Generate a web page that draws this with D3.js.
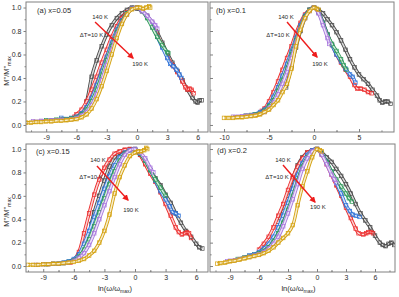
<!DOCTYPE html>
<html>
<head>
<meta charset="utf-8">
<script src="https://cdn.jsdelivr.net/npm/d3@7"></script>
<style>
body { margin: 0; background: #fff; }
svg text { font-family: "Liberation Sans", Arial, sans-serif; fill: #2a2a2a; }
</style>
</head>
<body>
<div id="chart"></div>
<script>
// temperatures and colours (140 K ... 190 K, step 10 K)
const temps = ['140 K', '150 K', '160 K', '170 K', '180 K', '190 K'];
const colors = ['#4a4a4a', '#ec2f2f', '#3174d8', '#2f9a5a', '#a877de', '#d4a10e'];

// (a) x=0.05
const a140 = [[-5.4,.12],[-5,.2],[-4.5,.41],[-4,.55],[-3.5,.67],[-3,.77],[-2.5,.85],[-2,.91],[-1.5,.95],[-1,.98],[-.5,1],[0,.99],[.5,.97],[1,.93],[1.5,.87],[2,.79],[2.5,.7],[3,.61],[3.5,.53],[4,.46],[4.5,.38],[5,.3],[5.5,.23],[5.8,.2],[6,.19],[6.2,.21],[6.4,.21]];
const a150 = [[-6.2,.07],[-6,.09],[-5.5,.13],[-5,.2],[-4.5,.3],[-4,.41],[-3.5,.53],[-3,.64],[-2.5,.75],[-2,.84],[-1.5,.91],[-1,.96],[-.5,.99],[0,1],[.5,.97],[1,.92],[1.5,.85],[2,.76],[2.5,.67],[3,.58],[3.5,.51],[4,.45],[4.5,.37],[4.8,.32],[5,.3],[5.2,.31],[5.4,.3],[5.6,.27]];
const a160 = [[-7.5,.06],[-7.3,.05],[-7,.05],[-6.5,.06],[-6,.07],[-5.5,.1],[-5,.15],[-4.5,.23],[-4,.34],[-3.5,.46],[-3,.58],[-2.5,.7],[-2,.81],[-1.5,.89],[-1,.95],[-.5,.99],[0,1],[.5,.97],[1,.92],[1.5,.84],[2,.75],[2.5,.66],[3,.57],[3.3,.52],[3.6,.5],[3.9,.47],[4.2,.43],[4.4,.4]];
const a170 = [[-9,.04],[-8.5,.04],[-8,.045],[-7.5,.05],[-7,.05],[-6.5,.055],[-6,.065],[-5.5,.09],[-5,.13],[-4.5,.2],[-4,.3],[-3.5,.42],[-3,.55],[-2.5,.67],[-2,.79],[-1.5,.88],[-1,.95],[-.5,.99],[0,1],[.5,.97],[1,.91],[1.5,.83],[2,.75],[2.5,.68],[3,.62],[3.1,.61]];
const a180 = [[-10.3,.03],[-9.5,.035],[-8.5,.04],[-7.5,.045],[-6.5,.05],[-6,.06],[-5.5,.08],[-5,.11],[-4.5,.17],[-4,.26],[-3.5,.38],[-3,.51],[-2.5,.64],[-2,.77],[-1.5,.87],[-1,.94],[-.5,.99],[0,1],[.5,.97],[1,.93],[1.5,.88],[1.8,.85],[2,.82]];
const a190 = [[-11,.02],[-10.5,.02],[-10,.025],[-9.5,.025],[-9,.03],[-8.5,.03],[-8,.035],[-7.5,.035],[-7,.04],[-6.5,.045],[-6,.05],[-5.5,.065],[-5,.09],[-4.5,.14],[-4,.22],[-3.5,.33],[-3,.46],[-2.5,.6],[-2,.74],[-1.5,.86],[-1,.94],[-.5,.985],[0,1],[.3,1],[.6,.99],[.9,1],[1.2,1.01],[1.3,1]];

// (b) x=0.1
const b140 = [[-3.1,.32],[-2.5,.5],[-2,.66],[-1.5,.8],[-1,.91],[-.5,.98],[0,1],[.5,.98],[1,.95],[1.5,.9],[2,.85],[2.5,.79],[3,.72],[3.5,.64],[4,.56],[4.5,.49],[5,.43],[5.5,.39],[6,.35],[6.5,.3],[7,.25],[7.3,.21],[7.6,.19],[7.9,.2],[8.2,.2],[8.5,.18]];
const b150 = [[-5.8,.12],[-5.5,.14],[-5,.2],[-4.5,.28],[-4,.37],[-3.5,.47],[-3,.57],[-2.5,.67],[-2,.78],[-1.5,.87],[-1,.94],[-.5,.98],[0,1],[.5,.96],[1,.87],[1.5,.77],[2,.68],[2.5,.6],[3,.53],[3.5,.47],[4,.41],[4.5,.34],[4.8,.31],[5.2,.31],[5.6,.3],[6,.28],[6.4,.27]];
const b160 = [[-6.6,.09],[-6,.11],[-5.5,.13],[-5,.17],[-4.5,.24],[-4,.32],[-3.5,.42],[-3,.52],[-2.5,.63],[-2,.74],[-1.5,.85],[-1,.93],[-.5,.98],[0,1],[.5,.96],[1,.87],[1.5,.77],[2,.68],[2.5,.6],[3,.54],[3.5,.48],[4,.43],[4.3,.41],[4.6,.36]];
const b170 = [[-7.6,.08],[-7,.085],[-6.5,.09],[-6,.1],[-5.5,.12],[-5,.16],[-4.5,.21],[-4,.29],[-3.5,.38],[-3,.48],[-2.5,.6],[-2,.72],[-1.5,.83],[-1,.92],[-.5,.98],[0,1],[.5,.96],[1,.87],[1.5,.77],[2,.69],[2.5,.63],[3,.56],[3.3,.51],[3.6,.47]];
const b180 = [[-9,.07],[-8.5,.07],[-8,.075],[-7.5,.08],[-7,.08],[-6.5,.085],[-6,.095],[-5.5,.11],[-5,.14],[-4.5,.19],[-4,.26],[-3.5,.35],[-3,.45],[-2.5,.57],[-2,.7],[-1.5,.82],[-1,.91],[-.5,.97],[0,1],[.5,.95],[1,.85],[1.5,.74],[1.7,.69]];
const b190 = [[-10,.06],[-9.5,.06],[-9,.06],[-8.5,.065],[-8,.065],[-7.5,.07],[-7,.075],[-6.5,.08],[-6,.09],[-5.5,.11],[-5,.13],[-4.5,.17],[-4,.21],[-3.5,.28],[-3,.35],[-2.5,.48],[-2,.67],[-1.5,.81],[-1,.91],[-.5,.97],[0,1],[.3,.99],[.5,.98]];

// (c) x=0.15
const c140 = [[-4.3,.36],[-4,.46],[-3.5,.6],[-3,.73],[-2.5,.85],[-2,.93],[-1.5,.97],[-1,.99],[-.5,1],[0,.99],[.5,.95],[1,.88],[1.5,.82],[2,.75],[2.5,.69],[3,.61],[3.5,.54],[4,.45],[4.5,.37],[5,.3],[5.5,.25],[6,.19],[6.3,.16],[6.6,.15]];
const c150 = [[-6.3,.03],[-6,.05],[-5.5,.12],[-5,.28],[-4.5,.45],[-4,.61],[-3.5,.74],[-3,.84],[-2.5,.91],[-2,.96],[-1.5,.98],[-1,.995],[-.5,1],[0,1],[.5,.95],[1,.87],[1.5,.79],[2,.72],[2.5,.63],[3,.53],[3.5,.43],[4,.33],[4.3,.29],[4.6,.27],[4.9,.28],[5.1,.29],[5.3,.28],[5.5,.24]];
const c160 = [[-7.5,.02],[-7,.03],[-6.5,.04],[-6,.06],[-5.5,.1],[-5,.19],[-4.5,.3],[-4,.42],[-3.5,.54],[-3,.66],[-2.5,.77],[-2,.86],[-1.5,.93],[-1,.97],[-.5,.99],[0,1],[.5,.96],[1,.9],[1.5,.82],[2,.73],[2.5,.64],[3,.57],[3.4,.51],[3.7,.46],[4,.45],[4.3,.43]];
const c170 = [[-8.7,.015],[-8,.02],[-7.5,.02],[-7,.025],[-6.5,.035],[-6,.05],[-5.5,.08],[-5,.14],[-4.5,.23],[-4,.34],[-3.5,.46],[-3,.58],[-2.5,.7],[-2,.81],[-1.5,.9],[-1,.96],[-.5,.99],[0,1],[.5,.96],[1,.9],[1.5,.82],[2,.74],[2.5,.67],[3,.6]];
const c180 = [[-9.7,.01],[-9,.015],[-8.5,.015],[-8,.02],[-7.5,.02],[-7,.025],[-6.5,.03],[-6,.045],[-5.5,.07],[-5,.11],[-4.5,.18],[-4,.28],[-3.5,.4],[-3,.52],[-2.5,.64],[-2,.76],[-1.5,.87],[-1,.95],[-.5,.99],[0,1],[.5,.97],[1,.92],[1.5,.84],[1.8,.8]];
const c190 = [[-10.5,.01],[-10,.01],[-9.5,.01],[-9,.015],[-8.5,.015],[-8,.02],[-7.5,.02],[-7,.025],[-6.5,.03],[-6,.035],[-5.5,.045],[-5,.06],[-4.5,.09],[-4,.13],[-3.5,.2],[-3,.3],[-2.5,.44],[-2,.62],[-1.5,.76],[-1,.86],[-.5,.94],[0,.97],[.3,.98],[.6,.98],[.9,.99],[1.1,1.01],[1.2,1]];

// (d) x=0.2
const d140 = [[-4,.38],[-3.5,.47],[-3,.6],[-2.5,.75],[-2,.86],[-1.5,.93],[-1,.97],[-.5,.99],[0,1],[.5,.97],[1,.93],[1.5,.89],[2,.83],[2.5,.77],[3,.7],[3.5,.62],[4,.53],[4.5,.45],[5,.39],[5.5,.33],[6,.26],[6.5,.2],[6.8,.18],[7.1,.17],[7.4,.19],[7.7,.2],[8,.18]];
const d150 = [[-6,.14],[-5.5,.19],[-5,.25],[-4.5,.33],[-4,.43],[-3.5,.53],[-3,.65],[-2.5,.76],[-2,.85],[-1.5,.92],[-1,.97],[-.5,.99],[0,1],[.5,.95],[1,.87],[1.5,.78],[2,.69],[2.5,.6],[3,.5],[3.5,.41],[4,.32],[4.3,.28],[4.8,.27],[5.1,.28],[5.3,.29],[5.6,.29],[5.8,.28]];
const d160 = [[-7,.09],[-6.5,.1],[-6,.12],[-5.5,.15],[-5,.19],[-4.5,.25],[-4,.33],[-3.5,.43],[-3,.54],[-2.5,.66],[-2,.78],[-1.5,.88],[-1,.95],[-.5,.99],[0,1],[.5,.96],[1,.89],[1.5,.8],[2,.71],[2.5,.62],[3,.52],[3.4,.47],[3.7,.44],[4,.43],[4.4,.42]];
const d170 = [[-8.2,.06],[-7.5,.075],[-7,.085],[-6.5,.095],[-6,.11],[-5.5,.13],[-5,.16],[-4.5,.21],[-4,.28],[-3.5,.37],[-3,.48],[-2.5,.6],[-2,.73],[-1.5,.85],[-1,.93],[-.5,.98],[0,1],[.5,.96],[1,.89],[1.5,.81],[2,.74],[2.5,.68],[3,.62],[3.3,.58],[3.6,.55]];
const d180 = [[-9.3,.04],[-9,.045],[-8.5,.05],[-8,.06],[-7.5,.07],[-7,.08],[-6.5,.09],[-6,.1],[-5.5,.12],[-5,.15],[-4.5,.19],[-4,.25],[-3.5,.34],[-3,.45],[-2.5,.57],[-2,.7],[-1.5,.83],[-1,.92],[-.5,.98],[0,1],[.5,.95],[1,.87],[1.5,.78],[1.8,.74],[2,.71]];
const d190 = [[-10.3,.02],[-10,.025],[-9.5,.03],[-9,.04],[-8.5,.045],[-8,.055],[-7.5,.065],[-7,.075],[-6.5,.085],[-6,.095],[-5.5,.11],[-5,.13],[-4.5,.16],[-4,.2],[-3.5,.24],[-3,.28],[-2.5,.35],[-2,.52],[-1.5,.68],[-1,.81],[-.5,.93],[0,1],[.3,.99],[.5,.98]];

const panelLabels = ['(a) x=0.05', '(b) x=0.1', '(c) x=0.15', '(d) x=0.2'];
const xTicks369 = [-9, -6, -3, 0, 3, 6];
const xTicks5 = [-10, -5, 0, 5];
const yTicks = [0, 0.2, 0.4, 0.6, 0.8, 1.0];

const W = 399, H = 297;

const panels = [
	{ label: panelLabels[0], series: [a140, a150, a160, a170, a180, a190], xd: [-11, 7.03], yd: [-0.06, 1.047],
	  xt: xTicks369, step: 3, box: [26, 208, 2, 132], left: true, bottom: false,
	  ann: { t140: [-3.66, .898], dT: [-4.5, .749], t190: [0.3, .506], arr: [[-4.16, .877], [-0.4, .57]], lab: [-9.9, .953] } },
	{ label: panelLabels[1], series: [b140, b150, b160, b170, b180, b190], xd: [-11.56, 8.89], yd: [-0.06, 1.047],
	  xt: xTicks5, step: 5, box: [210, 394, 2, 132], left: false, bottom: false,
	  ann: { t140: [-3.11, .898], dT: [-4.0, .749], t190: [0.67, .506], arr: [[-3.0, .877], [0.33, .579]], lab: [-10.89, .953] } },
	{ label: panelLabels[2], series: [c140, c150, c160, c170, c180, c190], xd: [-10.69, 7.16], yd: [-0.051, 1.043],
	  xt: xTicks369, step: 3, box: [26, 208, 144, 272], left: true, bottom: true,
	  ann: { t140: [-3.63, .889], dT: [-4.31, .744], t190: [-0.39, .462], arr: [[-3.73, .855], [-0.69, .564]], lab: [-9.7, .957] } },
	{ label: panelLabels[3], series: [d140, d150, d160, d170, d180, d190], xd: [-11.07, 8.07], yd: [-0.051, 1.043],
	  xt: xTicks369, step: 3, box: [210, 395, 144, 272], left: false, bottom: true,
	  ann: { t140: [-3.52, .889], dT: [-4.14, .744], t190: [0.10, .487], arr: [[-3.52, .863], [-0.21, .547]], lab: [-10.34, .966] } }
];

const svg = d3.select('#chart').append('svg')
	.attr('width', W)
	.attr('height', H);

const defs = svg.append('defs');
defs.append('marker')
	.attr('id', 'head')
	.attr('viewBox', '0 0 10 10')
	.attr('refX', 8).attr('refY', 5)
	.attr('markerWidth', 4.5).attr('markerHeight', 4.5)
	.attr('orient', 'auto')
	.append('path')
	.attr('d', 'M0,0 L10,5 L0,10 z')
	.attr('fill', '#ee1c1c');

panels.forEach(function (p, i) {

	let [x0, x1, y0, y1] = p.box;
	let x = d3.scaleLinear().domain(p.xd).range([x0, x1]);
	let y = d3.scaleLinear().domain(p.yd).range([y1, y0]);

	let g = svg.append('g');

	defs.append('clipPath').attr('id', 'clip' + i)
		.append('rect').attr('x', x0).attr('y', y0).attr('width', x1 - x0).attr('height', y1 - y0);

	// curves, coldest first so 190 K ends on top
	let line = d3.line()
		.x(d => x(d[0]))
		.y(d => y(d[1]))
		.curve(d3.curveCatmullRom.alpha(0.5));

	let plot = g.append('g').attr('clip-path', 'url(#clip' + i + ')');

	p.series.forEach(function (s, k) {
		let c = colors[k];
		// dense open squares read as a hollow band
		plot.append('path')
			.attr('d', line(s))
			.attr('fill', 'none')
			.attr('stroke', c)
			.attr('stroke-width', 3.3);
		plot.append('path')
			.attr('d', line(s))
			.attr('fill', 'none')
			.attr('stroke', '#fff')
			.attr('stroke-opacity', 0.8)
			.attr('stroke-width', 1.5);
		plot.selectAll(null)
			.data(s)
			.enter().append('rect')
			.attr('x', d => x(d[0]) - 1.8)
			.attr('y', d => y(d[1]) - 1.8)
			.attr('width', 3.6)
			.attr('height', 3.6)
			.attr('fill', 'none')
			.attr('stroke', c)
			.attr('stroke-width', 0.7);
	});

	// frame
	g.append('rect')
		.attr('x', x0).attr('y', y0)
		.attr('width', x1 - x0).attr('height', y1 - y0)
		.attr('fill', 'none')
		.attr('stroke', '#808080')
		.attr('stroke-width', 1);

	// x axis
	let minorX = [];
	p.xt.forEach(t => minorX.push(t - p.step / 2, t + p.step / 2));
	minorX = minorX.filter(t => t > p.xd[0] && t < p.xd[1] && p.xt.indexOf(t) < 0);

	let xa = g.append('g').attr('transform', 'translate(0,' + y1 + ')')
		.call(d3.axisBottom(x).tickValues(p.xt).tickSizeInner(-3).tickSizeOuter(0).tickPadding(3)
			.tickFormat(d => d < 0 ? '-' + Math.abs(d) : d));
	xa.select('.domain').remove();
	xa.selectAll('line').attr('stroke', '#808080');
	xa.selectAll('text').attr('font-size', 7).attr('font-family', null).attr('fill', '#2a2a2a');

	let xm = g.append('g').attr('transform', 'translate(0,' + y1 + ')')
		.call(d3.axisBottom(x).tickValues(minorX).tickSize(-1.6).tickFormat(''));
	xm.select('.domain').remove();
	xm.selectAll('line').attr('stroke', '#808080');

	// y axis
	let ya = g.append('g').attr('transform', 'translate(' + x0 + ',0)')
		.call(d3.axisLeft(y).tickValues(yTicks).tickSizeInner(p.left ? 2.5 : -3).tickSizeOuter(0).tickPadding(2)
			.tickFormat(p.left ? d3.format('.1f') : ''));
	ya.select('.domain').remove();
	ya.selectAll('line').attr('stroke', '#808080');
	ya.selectAll('text').attr('font-size', 7).attr('font-family', null).attr('fill', '#2a2a2a');

	let ym = g.append('g').attr('transform', 'translate(' + x0 + ',0)')
		.call(d3.axisLeft(y).tickValues([0.1, 0.3, 0.5, 0.7, 0.9]).tickSize(p.left ? 1.5 : -1.6).tickFormat(''));
	ym.select('.domain').remove();
	ym.selectAll('line').attr('stroke', '#808080');

	// panel label and temperature arrow
	let a = p.ann;
	g.append('text')
		.attr('x', x(a.lab[0])).attr('y', y(a.lab[1]))
		.attr('font-size', 7.5)
		.text(p.label);

	g.append('text')
		.attr('x', x(a.t140[0])).attr('y', y(a.t140[1]))
		.attr('text-anchor', 'middle')
		.attr('font-size', 6)
		.text(temps[0]);

	g.append('text')
		.attr('x', x(a.dT[0])).attr('y', y(a.dT[1]))
		.attr('text-anchor', 'middle')
		.attr('font-size', 6)
		.text('\u0394T=10 K');

	g.append('text')
		.attr('x', x(a.t190[0])).attr('y', y(a.t190[1]))
		.attr('text-anchor', 'middle')
		.attr('font-size', 6)
		.text(temps[5]);

	g.append('line')
		.attr('x1', x(a.arr[0][0])).attr('y1', y(a.arr[0][1]))
		.attr('x2', x(a.arr[1][0])).attr('y2', y(a.arr[1][1]))
		.attr('stroke', '#ee1c1c')
		.attr('stroke-width', 1.4)
		.attr('marker-end', 'url(#head)');

	// axis titles
	if (p.left) {
		let yt = svg.append('text')
			.attr('transform', 'translate(9,' + ((y0 + y1) / 2 + 4) + ') rotate(-90)')
			.attr('text-anchor', 'middle')
			.attr('font-size', 7.5);
		yt.append('tspan').text('M"/M"');
		yt.append('tspan').attr('font-size', 5).attr('dy', 2).text('max');
	}
	if (p.bottom) {
		let xt = svg.append('text')
			.attr('x', (x0 + x1) / 2 + (i == 2 ? -2 : -4))
			.attr('y', 291)
			.attr('text-anchor', 'middle')
			.attr('font-size', 7.5);
		xt.append('tspan').text('ln(\u03c9/\u03c9');
		xt.append('tspan').attr('font-size', 5).attr('dy', 2).text('max');
		xt.append('tspan').attr('dy', -2).text(')');
	}
});
</script>
</body>
</html>
